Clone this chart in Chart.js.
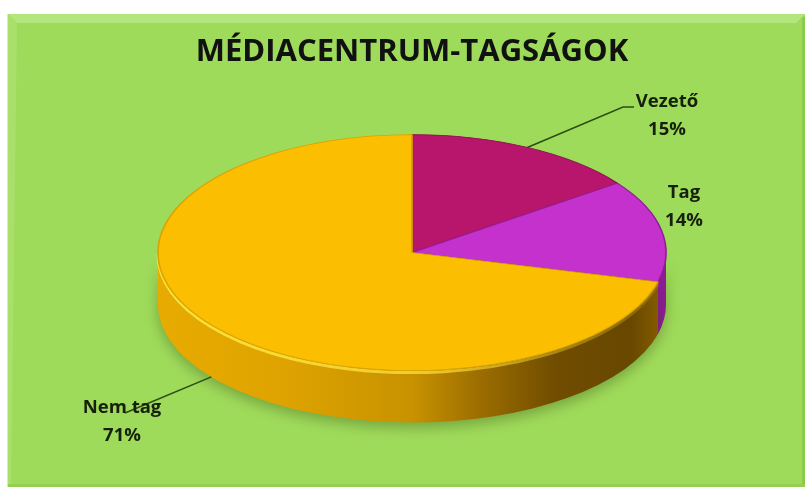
<!DOCTYPE html>
<html>
<head>
<meta charset="utf-8">
<script src="https://cdn.jsdelivr.net/npm/chart.js@4.4.1/dist/chart.umd.min.js"></script>
<style>
  html, body { margin: 0; padding: 0; background: #fff; }
  #wrap { width: 808px; height: 491px; }
</style>
</head>
<body>
<div id="wrap"><canvas id="myChart" width="808" height="491"></canvas></div>
<script>
// Chart data
const categories = ['Vezető', 'Tag', 'Nem tag'];
const shares = [15, 14, 71];
const titleText = 'MÉDIACENTRUM-TAGSÁGOK';

// Colours
const topColors = ['#b8166c', '#c431cc', '#fcbe00'];
const edgeColors = ['#8e0f52', '#8f1e98', '#d9a300'];

// 3D look: ellipse radii and wall depth
const tilt = { rx: 254, ry: 118, depth: 52 };

// label placement (text centre, leader end points)
const labelSpots = [
  { x: 667, y: 102, leader: [[623, 107], [634, 107]], from: 'top' },
  { x: 684, y: 193, leader: null },
  { x: 122, y: 408, leader: [[125, 413]], from: 'bottom' }
];

const ctx = document.getElementById('myChart').getContext('2d');

// green panel behind the chart
const panel = {
  id: 'panel',
  beforeDraw(chart) {
    const c = chart.ctx;
    c.save();
    c.fillStyle = '#ffffff';
    c.fillRect(0, 0, chart.width, chart.height);
    const l = 8, t = 14, r = 805, b = 487;
    c.fillStyle = 'rgba(0,0,0,0.12)';
    c.fillRect(l - 1, t, 1, b - t);
    c.fillStyle = '#9fdb5a';
    c.fillRect(l, t, r - l, b - t);
    // bevel top
    c.fillStyle = '#b3e67d';
    c.beginPath();
    c.moveTo(l, t); c.lineTo(r, t); c.lineTo(r - 9, t + 9); c.lineTo(l + 9, t + 9);
    c.closePath(); c.fill();
    // bevel left
    c.fillStyle = '#a9e06c';
    c.beginPath();
    c.moveTo(l, t); c.lineTo(l + 9, t + 9); c.lineTo(l + 3, b - 3); c.lineTo(l, b);
    c.closePath(); c.fill();
    // bevel right / bottom
    c.fillStyle = '#8ccb48';
    c.fillRect(r - 3, t + 3, 3, b - t - 3);
    c.fillStyle = '#93cf50';
    c.fillRect(l, b - 3, r - l, 3);
    c.restore();
  }
};

// pie drawn flattened with a side wall
const pie3d = {
  id: 'pie3d',
  beforeDatasetsDraw(chart) {
    const c = chart.ctx;
    const arcs = chart.getDatasetMeta(0).data;
    if (!arcs.length) return;
    const cx = arcs[0].x, cy = arcs[0].y;
    const R = arcs[0].outerRadius;
    const { rx, ry, depth } = tilt;

    // wall
    const grad = c.createLinearGradient(cx - rx, 0, cx + rx, 0);
    grad.addColorStop(0, '#e8ab00');
    grad.addColorStop(0.25, '#dea300');
    grad.addColorStop(0.5, '#c89200');
    grad.addColorStop(0.64, '#9a6c00');
    grad.addColorStop(0.78, '#704d00');
    grad.addColorStop(0.93, '#684700');
    grad.addColorStop(1, '#8a6100');
    const sideFill = [ '#7a0d44', '#8e1a96', grad ];

    c.save();
    arcs.forEach((arc, i) => {
      let s = arc.startAngle, e = arc.endAngle;
      const a0 = Math.max(s, 0), a1 = Math.min(e, Math.PI);
      if (a1 <= a0) return;
      c.save();
      c.shadowColor = 'rgba(40,60,10,0.35)';
      c.shadowBlur = 14;
      c.shadowOffsetY = 5;
      c.beginPath();
      c.ellipse(cx, cy, rx, ry, 0, a0, a1);
      c.ellipse(cx, cy + depth, rx, ry, 0, a1, a0, true);
      c.closePath();
      c.fillStyle = sideFill[i];
      c.fill();
      c.restore();
    });
    // bright rim along the front edge
    const rim = c.createLinearGradient(cx - rx, 0, cx + rx, 0);
    rim.addColorStop(0, 'rgba(255,232,70,0.9)');
    rim.addColorStop(0.55, 'rgba(255,225,60,0.7)');
    rim.addColorStop(1, 'rgba(255,210,40,0.15)');
    const nem = arcs[2];
    c.beginPath();
    c.ellipse(cx, cy + 2, rx, ry, 0, Math.max(nem.startAngle, 0.05), Math.PI);
    c.strokeStyle = rim;
    c.lineWidth = 3;
    c.stroke();
    c.restore();

    // flatten the top face
    c.save();
    c.translate(cx, cy);
    c.scale(rx / R, ry / R);
    c.translate(-cx, -cy);
  },
  afterDatasetsDraw(chart) {
    chart.ctx.restore();
  }
};

// data labels with leader lines
const pieLabels = {
  id: 'pieLabels',
  afterDraw(chart) {
    const c = chart.ctx;
    const arcs = chart.getDatasetMeta(0).data;
    const cx = arcs[0].x, cy = arcs[0].y;
    const { rx, ry, depth } = tilt;
    const total = shares.reduce((a, b) => a + b, 0);
    c.save();
    arcs.forEach((arc, i) => {
      const spot = labelSpots[i];
      if (spot.leader) {
        const mid = (arc.startAngle + arc.endAngle) / 2;
        const sx = cx + rx * Math.cos(mid);
        const sy = cy + ry * Math.sin(mid) + (spot.from === 'bottom' ? depth : 0);
        c.beginPath();
        c.moveTo(sx, sy);
        spot.leader.forEach(p => c.lineTo(p[0], p[1]));
        c.strokeStyle = '#2b4d12';
        c.lineWidth = 1.5;
        c.stroke();
      }
      c.font = 'bold 18.5px "Open Sans"';
      c.textAlign = 'center';
      c.textBaseline = 'middle';
      c.fillStyle = '#16200c';
      c.fillText(categories[i], spot.x, spot.y);
      c.fillText(Math.round(shares[i] / total * 100) + '%', spot.x, spot.y + 28);
    });
    c.restore();
  }
};

const chart = new Chart(ctx, {
  type: 'pie',
  data: {
    labels: categories,
    datasets: [{
      data: shares,
      backgroundColor: topColors,
      borderColor: edgeColors,
      borderWidth: 1,
      clip: false
    }]
  },
  options: {
    responsive: false,
    animation: false,
    layout: { padding: { left: 16, right: 0, top: 0, bottom: 85 } },
    plugins: {
      legend: { display: false },
      tooltip: { enabled: false },
      title: {
        display: true,
        text: titleText,
        color: '#111',
        font: { family: 'Open Sans', size: 31, weight: 'bold' },
        padding: { top: 34, bottom: 28 }
      }
    }
  },
  plugins: [panel, pie3d, pieLabels]
});
</script>
</body>
</html>
